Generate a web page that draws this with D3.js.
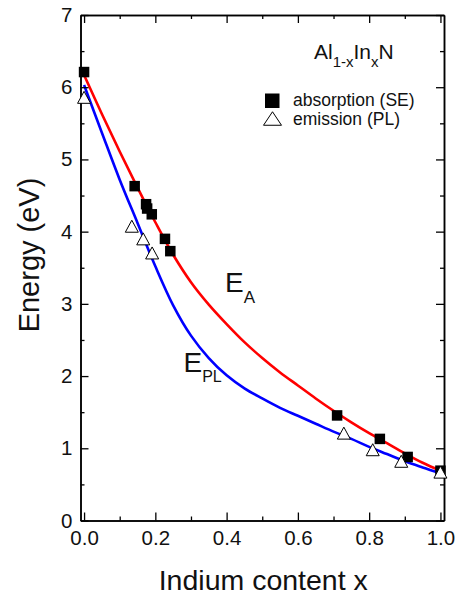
<!DOCTYPE html>
<html>
<head>
<meta charset="utf-8">
<script src="https://cdn.jsdelivr.net/npm/d3@7"></script>
<style>
  html, body { margin: 0; padding: 0; background: #fff; }
  svg { display: block; font-family: "Liberation Sans", Arial, sans-serif; }
</style>
</head>
<body>
<svg id="chart" width="455" height="599"></svg>
<script>
// ---- data ----
const absorptionX = [0.0, 0.142, 0.174, 0.177, 0.19, 0.227, 0.242, 0.71, 0.83, 0.908, 1.0];
const absorptionE = [6.21, 4.63, 4.38, 4.32, 4.24, 3.90, 3.73, 1.455, 1.13, 0.88, 0.69];
const emissionX = [0.0, 0.134, 0.166, 0.191, 0.729, 0.81, 0.89, 1.0];
const emissionE = [5.86, 4.075, 3.90, 3.705, 1.21, 0.98, 0.82, 0.67];

const curveAX = [0, 0.05, 0.1, 0.15, 0.2, 0.25, 0.3, 0.35, 0.4, 0.45, 0.5, 0.55, 0.6, 0.65, 0.7, 0.75, 0.8, 0.85, 0.9, 0.95, 1.0];
const curveAE = [6.17, 5.63, 5.11, 4.61, 4.13, 3.68, 3.30, 2.99, 2.72, 2.47, 2.25, 2.05, 1.87, 1.69, 1.52, 1.36, 1.21, 1.07, 0.93, 0.80, 0.69];
const curvePLX = [0, 0.05, 0.1, 0.15, 0.2, 0.25, 0.3, 0.35, 0.4, 0.45, 0.5, 0.55, 0.6, 0.65, 0.7, 0.75, 0.8, 0.85, 0.9, 0.95, 1.0];
const curvePLE = [6.03, 5.37, 4.72, 4.12, 3.52, 2.98, 2.56, 2.25, 2.01, 1.83, 1.69, 1.56, 1.45, 1.34, 1.23, 1.13, 1.02, 0.92, 0.82, 0.735, 0.655];

const xMajorTicks = [0.0, 0.2, 0.4, 0.6, 0.8, 1.0];
const xMinorTicks = [0.1, 0.3, 0.5, 0.7, 0.9];
const yMajorTicks = [0, 1, 2, 3, 4, 5, 6, 7];
const yMinorTicks = [0.5, 1.5, 2.5, 3.5, 4.5, 5.5, 6.5];

const xLabel = "Indium content x";
const yLabel = "Energy (eV)";
const legendLabels = ["absorption (SE)", "emission (PL)"];

// ---- layout ----
const svg = d3.select("#chart");
const L = 80.5, R = 444, T = 15, B = 520.5;
const x = d3.scaleLinear().domain([-0.01, 1.01]).range([L, R]);
const y = d3.scaleLinear().domain([0, 7]).range([B, T]);
const font = "'Liberation Sans', Arial, sans-serif";

// curves
const line = d3.line().x(d => x(d[0])).y(d => y(d[1])).curve(d3.curveCatmullRom.alpha(0.5));
svg.append("path").datum(curveAX.map((v, i) => [v, curveAE[i]]))
  .attr("d", line).attr("fill", "none").attr("stroke", "#ff0000").attr("stroke-width", 2.6);
svg.append("path").datum(curvePLX.map((v, i) => [v, curvePLE[i]]))
  .attr("d", line).attr("fill", "none").attr("stroke", "#0000ff").attr("stroke-width", 2.6);

// axes
function styleAxis(g) {
  g.selectAll("path.domain").attr("stroke", "#000").attr("stroke-width", 1.5);
  g.selectAll(".tick line").attr("stroke", "#000").attr("stroke-width", 1.3);
  g.selectAll(".tick text").attr("font-family", font).attr("font-size", 20.5).attr("fill", "#111");
}
const gxb = svg.append("g").attr("transform", `translate(0,${B})`)
  .call(d3.axisBottom(x).tickValues(xMajorTicks).tickSize(-8).tickSizeOuter(0).tickPadding(10).tickFormat(d3.format(".1f")));
styleAxis(gxb);
const gxbm = svg.append("g").attr("transform", `translate(0,${B})`)
  .call(d3.axisBottom(x).tickValues(xMinorTicks).tickSize(-4).tickSizeOuter(0).tickFormat(""));
styleAxis(gxbm);
const gxt = svg.append("g").attr("transform", `translate(0,${T})`)
  .call(d3.axisTop(x).tickValues(xMajorTicks).tickSize(-8).tickSizeOuter(0).tickFormat(""));
styleAxis(gxt);
const gxtm = svg.append("g").attr("transform", `translate(0,${T})`)
  .call(d3.axisTop(x).tickValues(xMinorTicks).tickSize(-4).tickSizeOuter(0).tickFormat(""));
styleAxis(gxtm);
const gyl = svg.append("g").attr("transform", `translate(${L},0)`)
  .call(d3.axisLeft(y).tickValues(yMajorTicks).tickSize(-8).tickSizeOuter(0).tickPadding(8).tickFormat(d3.format("d")));
styleAxis(gyl);
const gylm = svg.append("g").attr("transform", `translate(${L},0)`)
  .call(d3.axisLeft(y).tickValues(yMinorTicks).tickSize(-4).tickSizeOuter(0).tickFormat(""));
styleAxis(gylm);
const gyr = svg.append("g").attr("transform", `translate(${R},0)`)
  .call(d3.axisRight(y).tickValues(yMajorTicks).tickSize(-8).tickSizeOuter(0).tickFormat(""));
styleAxis(gyr);
const gyrm = svg.append("g").attr("transform", `translate(${R},0)`)
  .call(d3.axisRight(y).tickValues(yMinorTicks).tickSize(-4).tickSizeOuter(0).tickFormat(""));
styleAxis(gyrm);

// markers
const sq = 10.5;
svg.append("g").selectAll("rect").data(absorptionX.map((v, i) => [v, absorptionE[i]])).join("rect")
  .attr("x", d => x(d[0]) - sq / 2).attr("y", d => y(d[1]) - sq / 2)
  .attr("width", sq).attr("height", sq).attr("fill", "#000");
const tw = 13, th = 12;
const tri = (cx, cy, w, h) => `M${cx},${cy - h / 2}L${cx + w / 2},${cy + h / 2}L${cx - w / 2},${cy + h / 2}Z`;
svg.append("g").selectAll("path").data(emissionX.map((v, i) => [v, emissionE[i]])).join("path")
  .attr("d", d => tri(x(d[0]), y(d[1]), tw, th))
  .attr("fill", "#fff").attr("stroke", "#000").attr("stroke-width", 1);

// axis titles
svg.append("text").attr("x", (L + R) / 2 + 1).attr("y", 590).attr("text-anchor", "middle")
  .attr("font-family", font).attr("font-size", 28.5).attr("fill", "#111").text(xLabel);
svg.append("text").attr("transform", "translate(38.5,255) rotate(-90)").attr("text-anchor", "middle")
  .attr("font-family", font).attr("font-size", 29).attr("fill", "#111").text(yLabel);

// title Al1-xInxN
const title = svg.append("text").attr("x", 314).attr("y", 58.5)
  .attr("font-family", font).attr("font-size", 21).attr("fill", "#111");
title.append("tspan").text("Al");
title.append("tspan").attr("font-size", 15).attr("dy", 8).text("1-x");
title.append("tspan").attr("dy", -8).text("In");
title.append("tspan").attr("font-size", 15).attr("dy", 8).text("x");
title.append("tspan").attr("dy", -8).text("N");

// legend
svg.append("rect").attr("x", 265).attr("y", 93.5).attr("width", 14.5).attr("height", 14.5).attr("fill", "#000");
svg.append("path").attr("d", tri(272.5, 118.5, 18, 13.5)).attr("fill", "#fff").attr("stroke", "#000").attr("stroke-width", 1);
svg.append("text").attr("x", 293).attr("y", 106).attr("font-family", font).attr("font-size", 17.5).attr("fill", "#111").text(legendLabels[0]);
svg.append("text").attr("x", 293).attr("y", 124.5).attr("font-family", font).attr("font-size", 17.5).attr("fill", "#111").text(legendLabels[1]);

// curve labels
const ea = svg.append("text").attr("x", 225).attr("y", 291.5).attr("font-family", font).attr("font-size", 28).attr("fill", "#111");
ea.append("tspan").text("E");
ea.append("tspan").attr("font-size", 17).attr("dy", 11).text("A");
const epl = svg.append("text").attr("x", 183.5).attr("y", 371.5).attr("font-family", font).attr("font-size", 28).attr("fill", "#111");
epl.append("tspan").text("E");
epl.append("tspan").attr("font-size", 16).attr("dy", 10).text("PL");
</script>
</body>
</html>
